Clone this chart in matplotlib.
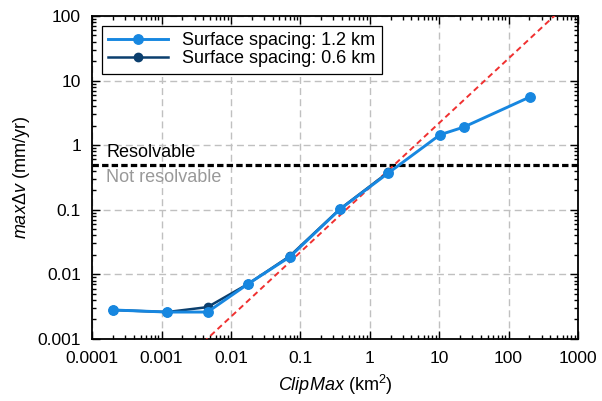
import matplotlib
matplotlib.use('Agg')
import matplotlib.pyplot as plt
import matplotlib.ticker as ticker
import numpy as np

plt.rcParams['font.family'] = ['Liberation Sans', 'DejaVu Sans']
plt.rcParams['mathtext.fontset'] = 'custom'
plt.rcParams['mathtext.rm'] = 'Liberation Sans'
plt.rcParams['mathtext.it'] = 'Liberation Sans:italic'

# data
clip_12 = [0.0002, 0.0012, 0.0046, 0.0177, 0.07, 0.37, 1.85, 10.3, 22.5, 205]
dv_12 = [0.0028, 0.0026, 0.0026, 0.0071, 0.0185, 0.101, 0.37, 1.45, 1.9, 5.6]
clip_06 = [0.0002, 0.0012, 0.0046, 0.0177, 0.07, 0.37, 1.85]
dv_06 = [0.0028, 0.0026, 0.0031, 0.0071, 0.019, 0.102, 0.38]
fit_coef = 0.22
resolvable_limit = 0.5
xticks = [0.0001, 0.001, 0.01, 0.1, 1, 10, 100, 1000]
yticks = [0.001, 0.01, 0.1, 1, 10, 100]

fig = plt.figure(figsize=(6.02, 4.01), dpi=100)
ax = fig.add_axes([0.153, 0.155, 0.807, 0.805])

ax.set_xscale('log')
ax.set_yscale('log')
ax.set_xlim(1e-4, 1e3)
ax.set_ylim(1e-3, 1e2)

ax.grid(True, which='major', linestyle=(0, (5, 3)), color='#c0c0c0', linewidth=1.0, zorder=0)

xf = np.logspace(-4, 3, 50)
ax.plot(xf, fit_coef * xf, color='#f03030', linestyle=(0, (3, 2)), linewidth=1.4, zorder=4)

ax.axhline(resolvable_limit, color='black', linestyle=(0, (2, 1)), linewidth=2.3, zorder=3)
ax.text(1.6e-4, 0.57, 'Resolvable', fontsize=13, color='black', va='bottom')
ax.text(1.6e-4, 0.42, 'Not resolvable', fontsize=13, color='#999999', va='top')

ax.plot(clip_06, dv_06, color='#0b3f6e', marker='o', markersize=6, linewidth=1.8,
        label='Surface spacing: 0.6 km', zorder=5)
ax.plot(clip_12, dv_12, color='#1787e0', marker='o', markersize=6.8, linewidth=2.1,
        label='Surface spacing: 1.2 km', zorder=6)

h, l = ax.get_legend_handles_labels()
leg = ax.legend(h[::-1], l[::-1], loc='upper left', fontsize=13, frameon=True,
                fancybox=False, edgecolor='black', framealpha=1,
                borderaxespad=0.55, handlelength=3.3, handletextpad=0.8,
                labelspacing=0.05, borderpad=0.35)
leg.get_frame().set_linewidth(0.9)

ax.xaxis.set_major_locator(ticker.FixedLocator(xticks))
ax.yaxis.set_major_locator(ticker.FixedLocator(yticks))
fmt = ticker.FuncFormatter(lambda v, p: '%g' % v if v >= 1 else ('%.10f' % v).rstrip('0'))
ax.xaxis.set_major_formatter(fmt)
ax.yaxis.set_major_formatter(fmt)
ax.xaxis.set_minor_locator(ticker.LogLocator(base=10, subs=np.arange(2, 10), numticks=20))
ax.yaxis.set_minor_locator(ticker.LogLocator(base=10, subs=np.arange(2, 10), numticks=20))
ax.xaxis.set_minor_formatter(ticker.NullFormatter())
ax.yaxis.set_minor_formatter(ticker.NullFormatter())

ax.tick_params(which='both', direction='in', top=True, right=True, labelsize=12.5, width=1.0)
ax.tick_params(axis='x', which='major', length=6, pad=9)
ax.tick_params(axis='y', which='major', length=6, pad=8)
ax.tick_params(which='minor', length=3)
for s in ax.spines.values():
    s.set_linewidth(1.3)

ax.set_xlabel(r'$ClipMax$ (km$^2$)', fontsize=13, labelpad=5)
ax.set_ylabel(r'$max\Delta v$ (mm/yr)', fontsize=13, labelpad=4)

fig.savefig('out.png', dpi=100)
